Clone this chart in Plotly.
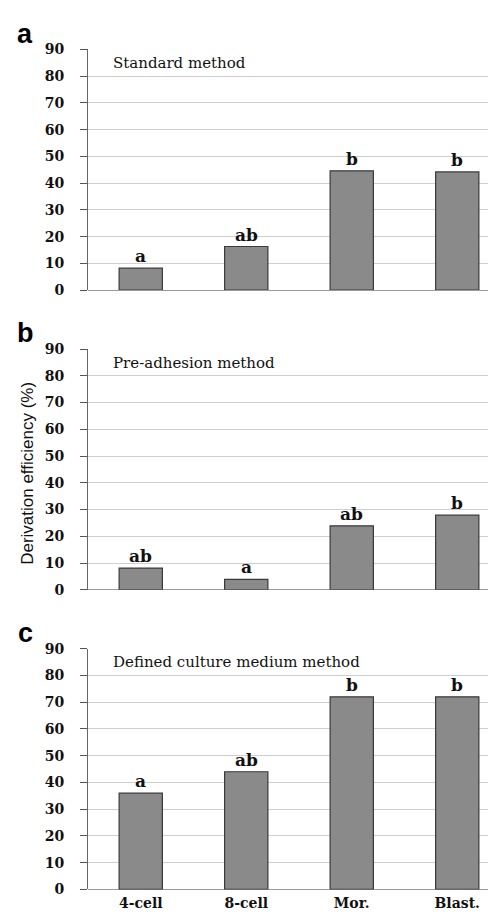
import plotly.graph_objects as go

categories = ["4-cell", "8-cell", "Mor.", "Blast."]
standard = [8.2, 16.3, 44.6, 44.2]
pre_adhesion = [8.1, 3.9, 23.9, 27.9]
defined_medium = [36, 44, 72, 72]
letters_a = ["a", "ab", "b", "b"]
letters_b = ["ab", "a", "ab", "b"]
letters_c = ["a", "ab", "b", "b"]
panel_titles = ["Standard method", "Pre-adhesion method", "Defined culture medium method"]
panel_letters = ["a", "b", "c"]
y_ticks = [0, 10, 20, 30, 40, 50, 60, 70, 80, 90]

W, H = 496, 914
series = [standard, pre_adhesion, defined_medium]
letters = [letters_a, letters_b, letters_c]
# pixel rows for y=90 and y=0 in each panel
rows_px = [(34, 279), (339, 584), (644, 889)]
x0_px = 80
cat_px = 105.5

def py(px):
    return 1 - px / H

fig = go.Figure()
serif = "DejaVu Serif"
for i, (vals, labs) in enumerate(zip(series, letters)):
    n = "" if i == 0 else str(i + 1)
    fig.add_trace(go.Bar(
        x=categories, y=vals, width=0.41,
        marker=dict(color="#8a8a8a", line=dict(color="#3a3a3a", width=1.2)),
        xaxis="x" + n, yaxis="y" + n, showlegend=False,
        cliponaxis=False,
    ))
    top, bot = rows_px[i]
    xr = [-0.5, -0.5 + (W - x0_px) / cat_px]
    fig.update_layout(**{
        "xaxis" + n: dict(
            domain=[x0_px / W, 1], range=xr, anchor="y" + n,
            showticklabels=(i == 2), ticks="", ticklabelstandoff=4,
            tickfont=dict(family=serif, size=14, color="#111111", weight="bold"),
            showline=False, showgrid=False, zeroline=False, fixedrange=True,
        ),
        "yaxis" + n: dict(
            domain=[py(bot), py(top)], range=[0, 90], anchor="x" + n,
            tickvals=y_ticks, ticks="outside", ticklen=7, tickcolor="#555555",
            tickwidth=1, ticklabelstandoff=13,
            tickfont=dict(family=serif, size=14, color="#111111", weight="bold"),
            showline=True, linecolor="#666666", linewidth=1,
            showgrid=True, gridcolor="#cfcfcf", gridwidth=1,
            zeroline=True, zerolinecolor="#9a9a9a", zerolinewidth=1,
            fixedrange=True,
        ),
    })
    for c, v, t in zip(categories, vals, labs):
        fig.add_annotation(
            x=c, y=v, xref="x" + n, yref="y" + n, text="<b>%s</b>" % t,
            showarrow=False, yanchor="bottom",
            font=dict(family=serif, size=17, color="#111111"),
        )
    fig.add_annotation(
        x=(x0_px + 23) / W, y=py(top + 14), xref="paper", yref="paper",
        text=panel_titles[i], showarrow=False, xanchor="left", yanchor="middle",
        font=dict(family=serif, size=15, color="#111111"),
    )
    fig.add_annotation(
        x=17 / W, y=py(top - 16), xref="paper", yref="paper",
        text="<b>%s</b>" % panel_letters[i], showarrow=False,
        xanchor="center", yanchor="middle",
        font=dict(family="Liberation Sans", size=27, color="#000000"),
    )

fig.add_annotation(
    x=20 / W, y=py(466), xref="paper", yref="paper",
    text="Derivation efficiency (%)", textangle=-90, showarrow=False,
    xanchor="center", yanchor="middle",
    font=dict(family="Liberation Sans", size=17, color="#111111"),
)

fig.update_layout(
    width=W, height=H, margin=dict(l=0, r=0, t=0, b=0),
    paper_bgcolor="white", plot_bgcolor="white", bargap=0.59,
)
fig.write_html("out.html")
